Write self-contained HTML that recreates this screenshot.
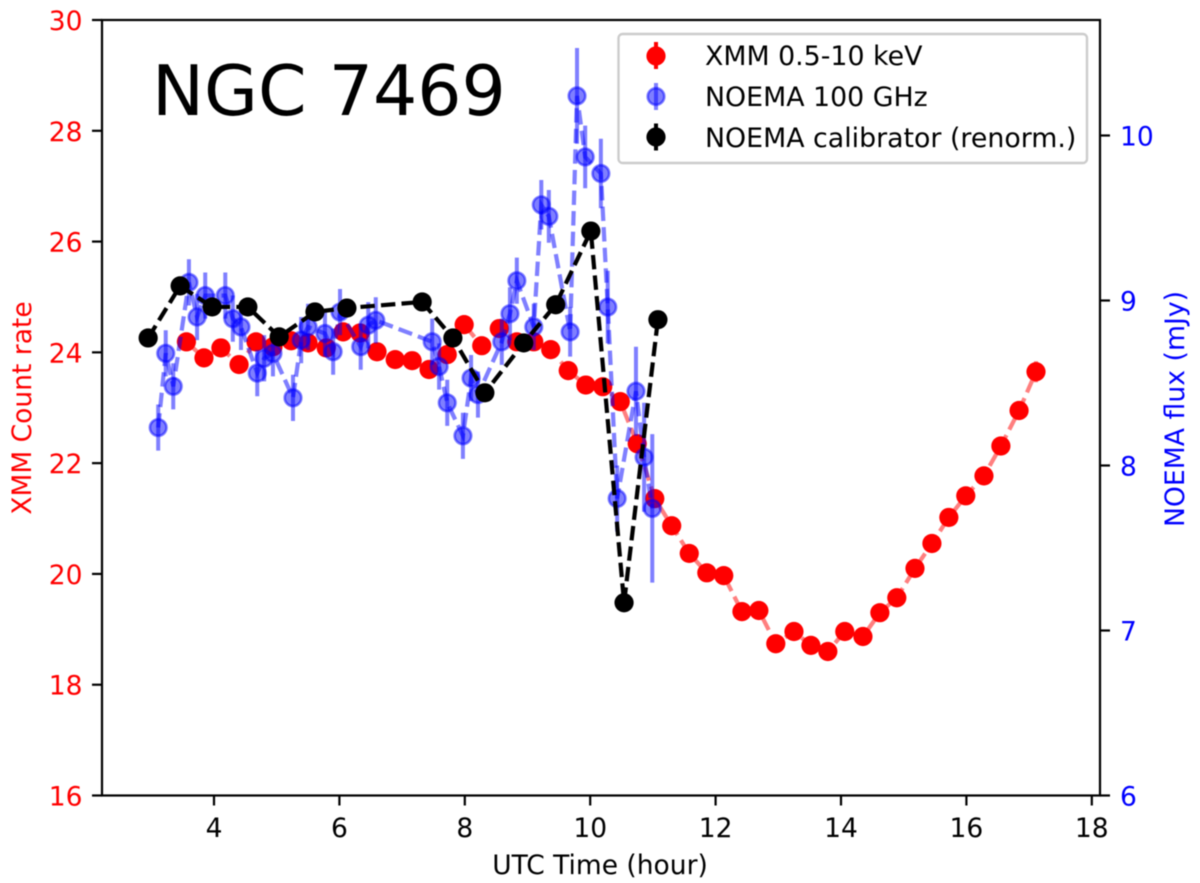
<!DOCTYPE html>
<html>
<head>
<meta charset="utf-8">
<title>NGC 7469 light curve</title>
<style>
html,body{margin:0;padding:0;background:#fff;}
svg{display:block;filter:blur(0.4px);}
text{font-family:"DejaVu Sans","Liberation Sans",sans-serif;}
</style>
</head>
<body>
<svg id="chart" xmlns="http://www.w3.org/2000/svg" width="1200" height="883" viewBox="0 0 1200 883">
  <rect x="0" y="0" width="1200" height="883" fill="#fff"/>
  <g id="marks"></g>
  <g id="axes"></g>
  <text x="152" y="115" font-size="69.6" fill="#000">NGC 7469</text>
  <text x="600" y="874" font-size="26.5" text-anchor="middle" fill="#000">UTC Time (hour)</text>
  <text transform="translate(31,408) rotate(-90)" font-size="26.5" text-anchor="middle" fill="#ff0000">XMM Count rate</text>
  <text transform="translate(1184,409) rotate(-90)" font-size="26.7" text-anchor="middle" fill="#0000ff">NOEMA flux (mJy)</text>

  <g>
    <rect x="618.5" y="34" width="468.5" height="129" rx="4" ry="4" fill="#fff" fill-opacity="0.85" stroke="#cccccc" stroke-width="2.4"/>
    <g>
      <line x1="656" x2="656" y1="42" y2="69" stroke="#ff0000" stroke-width="4"/>
      <circle cx="656" cy="56" r="9.6" fill="#ff0000"/>
      <text x="705" y="65" font-size="26.8" fill="#000">XMM 0.5-10 keV</text>
    </g>
    <g>
      <circle cx="656" cy="96.5" r="8.3" fill="#0000ff" fill-opacity="0.5" stroke="#0000ff" stroke-opacity="0.5" stroke-width="2.6"/>
      <line x1="656" x2="656" y1="83" y2="110" stroke="#0000ff" stroke-opacity="0.5" stroke-width="4"/>
      <text x="705" y="106" font-size="26.8" fill="#000">NOEMA 100 GHz</text>
    </g>
    <g>
      <line x1="656" x2="656" y1="123.5" y2="150.5" stroke="#000" stroke-width="4"/>
      <circle cx="656" cy="137" r="9.6" fill="#000"/>
      <text x="705" y="147" font-size="26.8" fill="#000">NOEMA calibrator (renorm.)</text>
    </g>
  </g>
</svg>
<script>
// ---- data ----
var xTickValues = [4, 6, 8, 10, 12, 14, 16, 18];
var leftTickValues = [16, 18, 20, 22, 24, 26, 28, 30];
var rightTickValues = [6, 7, 8, 9, 10];

var xmmTime = [3.56,3.84,4.11,4.40,4.67,4.94,5.23,5.50,5.79,6.06,6.33,6.60,6.89,7.16,7.43,7.72,7.99,8.27,8.55,8.83,9.10,9.37,9.65,9.93,10.20,10.48,10.75,11.03,11.30,11.58,11.86,12.13,12.42,12.69,12.96,13.25,13.52,13.79,14.06,14.35,14.62,14.89,15.18,15.45,15.72,15.99,16.28,16.55,16.84,17.11];
var xmmRate = [24.19,23.90,24.08,23.78,24.19,24.10,24.21,24.17,24.08,24.37,24.35,24.01,23.87,23.85,23.69,23.96,24.50,24.12,24.43,24.19,24.19,24.05,23.67,23.41,23.38,23.11,22.35,21.36,20.87,20.37,20.02,19.97,19.32,19.34,18.74,18.96,18.71,18.60,18.96,18.87,19.30,19.57,20.10,20.55,21.02,21.41,21.77,22.31,22.95,23.65];
var xmmError = [0.17,0.14,0.15,0.14,0.17,0.14,0.14,0.14,0.14,0.17,0.17,0.14,0.14,0.14,0.14,0.14,0.17,0.14,0.16,0.14,0.14,0.14,0.14,0.14,0.14,0.14,0.15,0.15,0.14,0.14,0.14,0.14,0.14,0.14,0.14,0.14,0.14,0.14,0.14,0.14,0.14,0.14,0.14,0.14,0.14,0.14,0.15,0.16,0.17,0.19];

var noemaTime = [3.11,3.23,3.35,3.60,3.73,3.86,4.18,4.30,4.43,4.69,4.80,4.94,5.26,5.39,5.50,5.77,5.90,6.01,6.34,6.46,6.58,7.48,7.59,7.72,7.97,8.10,8.21,8.59,8.72,8.83,9.10,9.22,9.34,9.68,9.79,9.92,10.17,10.28,10.43,10.73,10.86,10.99];
var noemaFlux = [8.23,8.68,8.48,9.11,8.90,9.03,9.03,8.89,8.84,8.56,8.65,8.68,8.41,8.76,8.84,8.80,8.69,8.93,8.72,8.85,8.88,8.75,8.60,8.38,8.18,8.53,8.43,8.75,8.92,9.12,8.84,9.58,9.51,8.81,10.24,9.87,9.77,8.96,7.80,8.45,8.05,7.74];
var noemaError = [0.14,0.14,0.14,0.14,0.14,0.14,0.14,0.14,0.14,0.14,0.14,0.14,0.14,0.14,0.14,0.14,0.14,0.14,0.14,0.14,0.14,0.14,0.14,0.14,0.14,0.14,0.14,0.14,0.16,0.14,0.14,0.15,0.16,0.15,0.29,0.19,0.21,0.22,0.20,0.27,0.33,0.45];

var calTime = [2.95,3.46,3.97,4.54,5.04,5.61,6.12,7.32,7.81,8.32,8.94,9.45,10.01,10.54,11.08];
var calRate = [24.26,25.20,24.82,24.82,24.28,24.73,24.80,24.91,24.26,23.27,24.17,24.86,26.19,19.48,24.59];
var calError = [0.08,0.08,0.08,0.08,0.08,0.08,0.08,0.08,0.08,0.08,0.08,0.08,0.08,0.08,0.08];

// ---- axis functions ----
var PLOT = {left: 102, right: 1100, top: 20, bottom: 795.5};
function xPos(t) { return 214 + (t - 4) * 62.7; }
function yLeft(v) { return PLOT.bottom - (v - 16) * (PLOT.bottom - PLOT.top) / 14; }
function yRight(v) { return PLOT.bottom - (v - 6) * 165; }

var NS = 'http://www.w3.org/2000/svg';
function mk(tag, attrs, parent) {
  var el = document.createElementNS(NS, tag);
  for (var k in attrs) { el.setAttribute(k, attrs[k]); }
  parent.appendChild(el);
  return el;
}

var marks = document.getElementById('marks');
var axes = document.getElementById('axes');

function polyPoints(xs, ys, yFn) {
  var out = [];
  for (var i = 0; i < xs.length; i++) { out.push(xPos(xs[i]).toFixed(2) + ',' + yFn(ys[i]).toFixed(2)); }
  return out.join(' ');
}

function drawSeries(prefix, xs, ys, errs, yFn, color, alpha, markerFn) {
  var line = mk('polyline', {
    points: polyPoints(xs, ys, yFn), fill: 'none', stroke: color, 'stroke-opacity': alpha,
    'stroke-width': 4.2, 'stroke-dasharray': '14.4 6.2'
  }, marks);
  
  
  for (var i = 0; i < xs.length; i++) {
    var g = mk('g', {}, marks);
    
    
    var px = xPos(xs[i]);
    var py = yFn(ys[i]);
    markerFn(g, px, py);
    mk('line', {
      x1: px, x2: px, y1: yFn(ys[i] - errs[i]), y2: yFn(ys[i] + errs[i]),
      stroke: color, 'stroke-opacity': alpha, 'stroke-width': 4
    }, g);
  }
}

drawSeries('xmm', xmmTime, xmmRate, xmmError, yLeft, '#ff0000', 0.5, function (g, px, py) {
  mk('circle', {cx: px, cy: py, r: 9.6, fill: '#ff0000'}, g);
});
drawSeries('noema', noemaTime, noemaFlux, noemaError, yRight, '#0000ff', 0.5, function (g, px, py) {
  mk('circle', {cx: px, cy: py, r: 8.3, fill: '#0000ff', 'fill-opacity': 0.5, stroke: '#0000ff', 'stroke-opacity': 0.5, 'stroke-width': 2.6}, g);
});
drawSeries('calibrator', calTime, calRate, calError, yLeft, '#000000', 1, function (g, px, py) {
  mk('circle', {cx: px, cy: py, r: 9.6, fill: '#000000'}, g);
});

// ---- axes ----
var frame = mk('rect', {
  x: PLOT.left, y: PLOT.top, width: PLOT.right - PLOT.left, height: PLOT.bottom - PLOT.top,
  fill: 'none', stroke: '#000', 'stroke-width': 2.2
}, axes);



xTickValues.forEach(function (v) {
  var px = xPos(v);
  var t = mk('line', {x1: px, x2: px, y1: PLOT.bottom, y2: PLOT.bottom + 10, stroke: '#000', 'stroke-width': 2.2}, axes);
  
  
  var lab = mk('text', {x: px, y: 837, 'font-size': 26.5, 'text-anchor': 'middle', fill: '#000'}, axes);
  
  
  lab.textContent = String(v);
});

leftTickValues.forEach(function (v) {
  var py = yLeft(v);
  var t = mk('line', {x1: PLOT.left - 10, x2: PLOT.left, y1: py, y2: py, stroke: '#000', 'stroke-width': 2.2}, axes);
  
  
  var lab = mk('text', {x: 82.5, y: py + 10, 'font-size': 26.5, 'text-anchor': 'end', fill: '#ff0000'}, axes);
  
  
  lab.textContent = String(v);
});

rightTickValues.forEach(function (v) {
  var py = yRight(v);
  var t = mk('line', {x1: PLOT.right, x2: PLOT.right + 10, y1: py, y2: py, stroke: '#000', 'stroke-width': 2.2}, axes);
  
  
  var lab = mk('text', {x: 1120, y: py + 10, 'font-size': 26.5, 'text-anchor': 'start', fill: '#0000ff'}, axes);
  
  
  lab.textContent = String(v);
});
</script>
</body>
</html>
